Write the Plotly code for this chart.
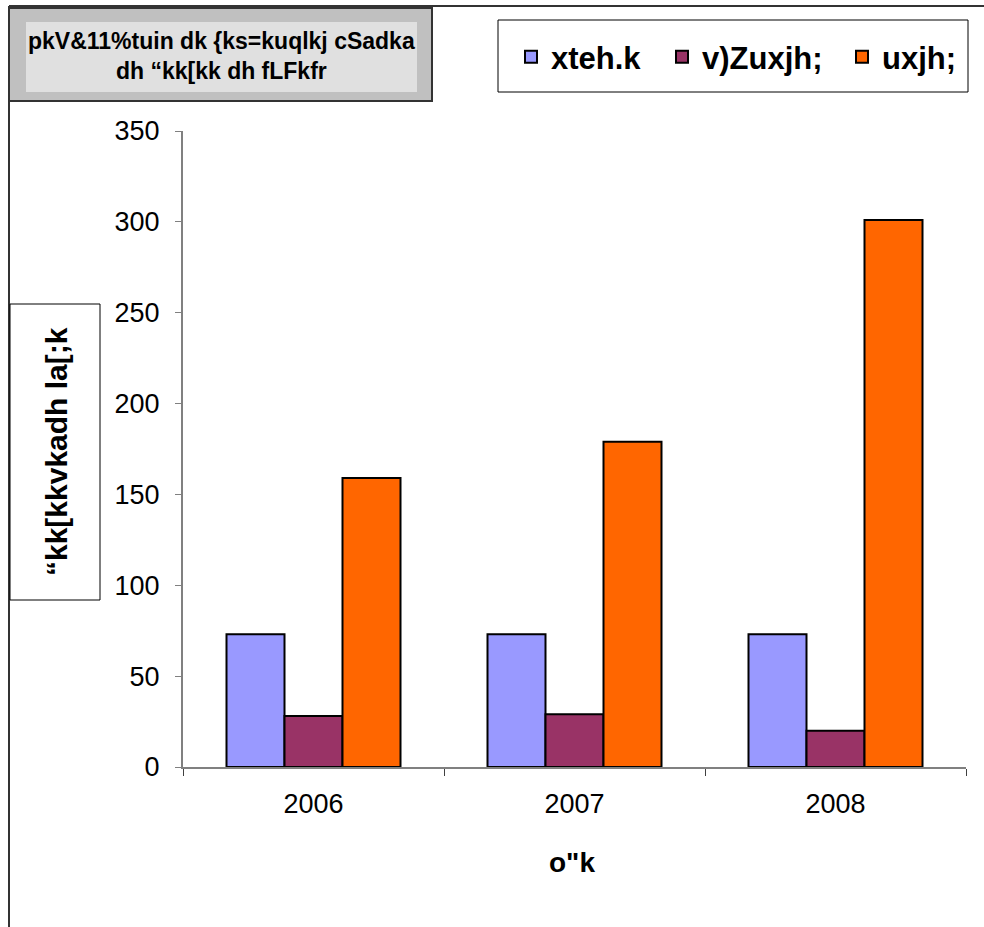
"""Branch count by area type, 2006-2008 - grouped bar chart."""

import plotly.graph_objects as go

years = ["2006", "2007", "2008"]
rural = [73, 73, 73]
semi_urban = [28, 29, 20]
urban = [159, 179, 301]

series_names = ["xteh.k", "v)Zuxjh;", "uxjh;"]
series_colors = ["#9999FF", "#993366", "#FF6600"]

title_text = "pkV&11%tuin dk {ks=kuqlkj cSadka<br>dh “kk[kk dh fLFkfr"
y_title = "“kk[kkvkadh la[;k"
x_title = 'o"k'

W, H = 984, 927
L, R, T, B = 183, 966, 131, 767   # plot area in pixels

hindi_font = "Liberation Sans, Arial, sans-serif"
tick_font = "Liberation Sans, Arial, sans-serif"


def px(x):
    return (x - L) / (R - L)


def py(y):
    return (B - y) / (B - T)


# each series gets its own legend so the entries sit where Excel put them
legend_ids = ["legend", "legend2", "legend3"]
legend_x = [511, 662, 842]

fig = go.Figure()
for name, vals, col, lid in zip(series_names, [rural, semi_urban, urban], series_colors, legend_ids):
    fig.add_trace(go.Bar(x=years, y=vals, name=name, marker_color=col, legend=lid,
                         marker_line=dict(color="black", width=2)))

shapes = [
    # outer chart border (top + left visible)
    dict(type="line", xref="paper", yref="paper", x0=px(9), x1=px(990), y0=py(6), y1=py(6),
         line=dict(color="#333333", width=2)),
    dict(type="line", xref="paper", yref="paper", x0=px(9), x1=px(9), y0=py(6), y1=py(940),
         line=dict(color="#333333", width=2)),
    # title box
    dict(type="rect", xref="paper", yref="paper", x0=px(9), x1=px(432), y0=py(8), y1=py(101),
         fillcolor="#C0C0C0", line=dict(color="#333333", width=2)),
    dict(type="rect", xref="paper", yref="paper", x0=px(26), x1=px(417), y0=py(22), y1=py(92),
         fillcolor="#E0E0E0", line=dict(width=0)),
    # legend box
    dict(type="rect", xref="paper", yref="paper", x0=px(498), x1=px(968), y0=py(20), y1=py(92),
         fillcolor="white", line=dict(color="black", width=1), layer="below"),
    # y title box
    dict(type="rect", xref="paper", yref="paper", x0=px(10), x1=px(100), y0=py(304), y1=py(600),
         fillcolor="white", line=dict(color="black", width=1)),
]

annotations = [
    dict(text=title_text, xref="paper", yref="paper", x=px(221), y=py(56),
         xanchor="center", yanchor="middle", showarrow=False,
         font=dict(family=hindi_font, size=23, color="black", weight="bold")),
    dict(text=y_title, xref="paper", yref="paper", x=px(56), y=py(452),
         xanchor="center", yanchor="middle", showarrow=False, textangle=-90,
         font=dict(family=hindi_font, size=30, color="black", weight="bold")),
    dict(text=x_title, xref="paper", yref="paper", x=px(572), y=py(862),
         xanchor="center", yanchor="middle", showarrow=False,
         font=dict(family=hindi_font, size=28, color="black", weight="bold")),
]

legend_style = dict(orientation="h", xanchor="left", yanchor="middle",
                    bgcolor="rgba(0,0,0,0)", borderwidth=0,
                    font=dict(family=hindi_font, size=31, color="black", weight="bold"))

fig.update_layout(
    width=W, height=H,
    margin=dict(l=L, r=W - R, t=T, b=H - B, pad=0, autoexpand=False),
    paper_bgcolor="white", plot_bgcolor="white",
    barmode="group", bargap=1 / 3, bargroupgap=0,
    shapes=shapes, annotations=annotations,
    showlegend=True,
    legend=dict(x=px(legend_x[0]), y=py(57), **legend_style),
    legend2=dict(x=px(legend_x[1]), y=py(57), **legend_style),
    legend3=dict(x=px(legend_x[2]), y=py(57), **legend_style),
)
fig.update_xaxes(type="category", showline=True, linecolor="#808080", linewidth=2,
                 ticks="outside", tickson="boundaries", ticklen=7, tickcolor="#404040",
                 tickfont=dict(family=tick_font, size=27, color="black"),
                 ticklabelstandoff=12, showgrid=False, zeroline=False)
fig.update_yaxes(range=[0, 350], dtick=50, showline=True, linecolor="#808080", linewidth=2,
                 ticks="outside", ticklen=6, tickcolor="#808080",
                 tickfont=dict(family=tick_font, size=27, color="black"),
                 ticklabelstandoff=10, showgrid=False, zeroline=False)

fig.write_html("out.html", config={"displayModeBar": False},
               post_script="document.body.style.margin='0px';")
